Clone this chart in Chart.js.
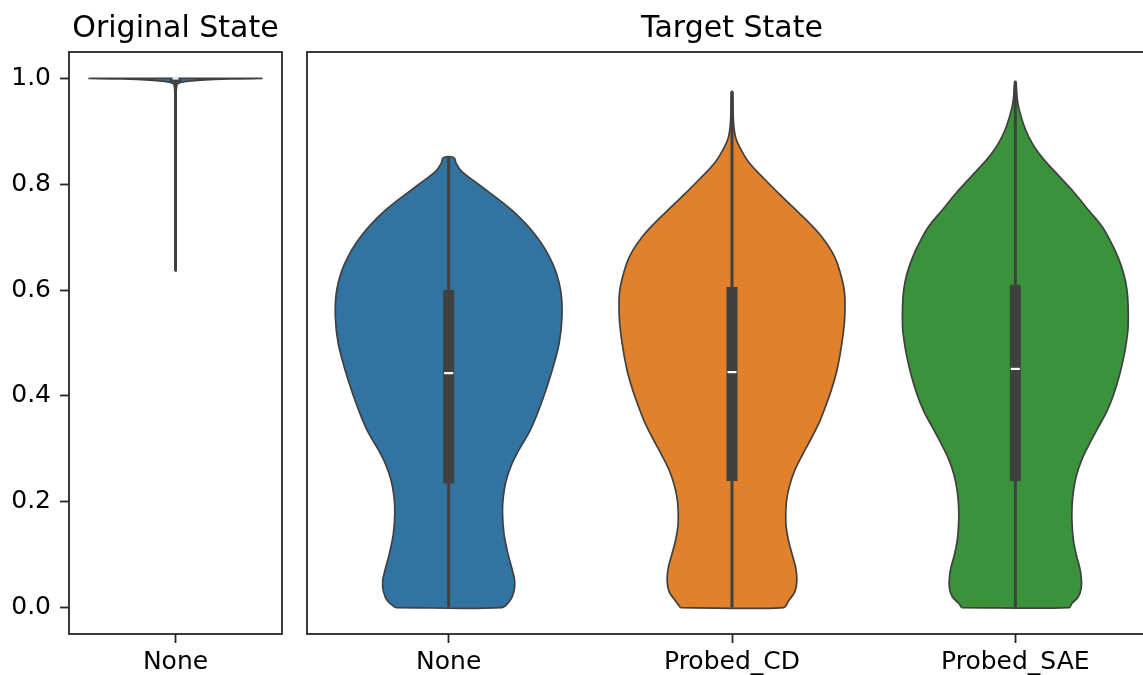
<!DOCTYPE html>
<html>
<head>
<meta charset="utf-8">
<script src="https://cdn.jsdelivr.net/npm/chart.js@4/dist/chart.umd.min.js"></script>
<style>
  html, body { margin: 0; padding: 0; background: #fff; }
  body { width: 1143px; height: 675px; overflow: hidden; position: relative; }
  canvas { position: absolute; top: 0; }
</style>
</head>
<body>
<canvas id="orig" width="300" height="675" style="left:0"></canvas>
<canvas id="target" width="880" height="675" style="left:295px"></canvas>
<script>
  // --- data ---
  const yTicks = [0.0, 0.2, 0.4, 0.6, 0.8, 1.0];

  const origCats = ['None'];
  const origColors = ['#3274a1'];
  const origLevels = [0.636, 0.9, 0.97, 0.985, 0.99, 0.993, 0.995, 0.997, 0.999, 1.0];
  const origWidths = [0.002, 0.002, 0.003, 0.005, 0.01, 0.03, 0.06, 0.12, 0.25, 0.4];
  const origMin = [0.636], origMax = [1.0];
  const origQ1 = [0.993], origQ3 = [1.0], origMedian = [1.0];

  const targetCats = ['None', 'Probed_CD', 'Probed_SAE'];
  const targetColors = ['#3274a1', '#e1812c', '#3a923a'];

  const noneLevels = [0.0, 0.012, 0.03, 0.05, 0.07, 0.1, 0.14, 0.18, 0.21, 0.24, 0.27, 0.3, 0.33, 0.36, 0.4, 0.45, 0.5, 0.55, 0.6, 0.65, 0.7, 0.75, 0.8, 0.825, 0.84, 0.85];
  const noneWidths = [0.187, 0.215, 0.23, 0.233, 0.225, 0.21, 0.195, 0.19, 0.193, 0.203, 0.222, 0.25, 0.283, 0.308, 0.336, 0.366, 0.39, 0.4, 0.395, 0.367, 0.312, 0.225, 0.105, 0.045, 0.026, 0.019];

  const cdLevels = [0.0, 0.013, 0.03, 0.051, 0.075, 0.095, 0.13, 0.16, 0.2, 0.23, 0.26, 0.29, 0.32, 0.35, 0.38, 0.41, 0.45, 0.5, 0.55, 0.6, 0.65, 0.675, 0.7, 0.72, 0.746, 0.78, 0.809, 0.841, 0.871, 0.89, 0.92, 0.975];
  const cdWidths = [0.182, 0.2, 0.222, 0.229, 0.225, 0.215, 0.198, 0.19, 0.192, 0.203, 0.222, 0.25, 0.28, 0.308, 0.33, 0.35, 0.371, 0.388, 0.398, 0.396, 0.372, 0.35, 0.318, 0.285, 0.236, 0.17, 0.116, 0.06, 0.026, 0.012, 0.005, 0.002];

  const saeLevels = [0.0, 0.008, 0.02, 0.038, 0.06, 0.076, 0.1, 0.127, 0.16, 0.19, 0.22, 0.25, 0.28, 0.31, 0.34, 0.37, 0.4, 0.44, 0.48, 0.506, 0.53, 0.57, 0.6, 0.63, 0.66, 0.69, 0.72, 0.75, 0.784, 0.815, 0.847, 0.87, 0.89, 0.91, 0.94, 0.96, 0.994];
  const saeWidths = [0.19, 0.2, 0.222, 0.233, 0.232, 0.227, 0.215, 0.205, 0.2, 0.2, 0.205, 0.216, 0.235, 0.262, 0.292, 0.322, 0.345, 0.368, 0.385, 0.393, 0.398, 0.398, 0.394, 0.383, 0.364, 0.338, 0.306, 0.26, 0.208, 0.155, 0.1, 0.068, 0.047, 0.031, 0.014, 0.007, 0.002];

  const targetMin = [0.0, 0.0, 0.0];
  const targetMax = [0.85, 0.975, 0.994];
  const targetQ1 = [0.235, 0.239, 0.239];
  const targetQ3 = [0.600, 0.606, 0.610];
  const targetMedian = [0.443, 0.445, 0.451];

  // --- styles ---
  const FONT = 'DejaVu Sans';
  const EDGE = '#404040';
  const SPINE = '#262626';

  function outline(levels, widths, idx, color) {
    let pts = [];
    for (let i = 0; i < levels.length; i++) pts.push({x: idx - widths[i], y: levels[i]});
    for (let i = levels.length - 1; i >= 0; i--) pts.push({x: idx + widths[i], y: levels[i]});
    pts.push(pts[0]);
    return {
      data: pts, borderColor: EDGE, borderWidth: 1.7, backgroundColor: color,
      fill: 'shape', tension: 0.35, pointRadius: 0, order: 3
    };
  }

  function innerBox(idx, lo, hi, q1, q3, med, medHalf) {
    return [
      {data: [{x: idx, y: lo}, {x: idx, y: hi}], borderColor: EDGE, borderWidth: 3,
        borderCapStyle: 'butt', pointRadius: 0, fill: false, order: 2},
      {data: [{x: idx, y: q1}, {x: idx, y: q3}], borderColor: EDGE, borderWidth: 11,
        borderCapStyle: 'butt', pointRadius: 0, fill: false, order: 1},
      {data: [{x: idx - medHalf, y: med}, {x: idx + medHalf, y: med}], borderColor: '#ffffff',
        borderWidth: 2.2, borderCapStyle: 'butt', pointRadius: 0, fill: false, order: 0}
    ];
  }

  const framePlugin = {
    id: 'frame',
    afterDraw(chart) {
      const a = chart.chartArea, ctx = chart.ctx;
      ctx.save();
      ctx.strokeStyle = SPINE;
      ctx.lineWidth = 1.8;
      ctx.strokeRect(a.left, a.top, a.right - a.left, a.bottom - a.top);
      ctx.restore();
    }
  };

  function makeChart(el, title, cats, datasets, pad, showY) {
    return new Chart(document.getElementById(el), {
      type: 'line',
      data: {datasets: datasets},
      plugins: [framePlugin],
      options: {
        responsive: false,
        animation: false,
        events: [],
        layout: {padding: pad},
        plugins: {
          legend: {display: false},
          tooltip: {enabled: false},
          title: {
            display: true, text: title, color: '#000', fullSize: false,
            font: {family: FONT, size: 30, weight: 'normal'},
            padding: {top: 11, bottom: 5}
          }
        },
        scales: {
          x: {
            type: 'linear', min: -0.5, max: cats.length - 0.5,
            border: {display: false},
            grid: {drawOnChartArea: false, drawTicks: true, tickLength: 9, tickColor: SPINE, tickWidth: 1.8},
            afterBuildTicks: (s) => { s.ticks = cats.map((c, i) => ({value: i})); },
            afterFit: (s) => { s.height = 41; },
            ticks: {
              autoSkip: false, maxRotation: 0, padding: 4, color: '#000',
              font: {family: FONT, size: 25},
              callback: (v) => cats[v]
            }
          },
          y: {
            type: 'linear', min: -0.05, max: 1.05, display: showY,
            border: {display: false},
            grid: {drawOnChartArea: false, drawTicks: true, tickLength: 9, tickColor: SPINE, tickWidth: 1.8},
            afterBuildTicks: (s) => { s.ticks = yTicks.map(v => ({value: v})); },
            afterFit: (s) => { s.width = showY ? 69 : 0; },
            ticks: {
              padding: 9, color: '#000',
              font: {family: FONT, size: 25},
              callback: (v) => v.toFixed(1)
            }
          }
        }
      }
    });
  }

  // --- left panel ---
  let origSets = [];
  origCats.forEach((c, i) => {
    origSets.push(outline(origLevels, origWidths, i, origColors[i]));
    origSets.push(...innerBox(i, origMin[i], origMax[i], origQ1[i], origQ3[i], origMedian[i], 0.014));
  });
  makeChart('orig', 'Original State', origCats, origSets, {left: 0, right: 18, top: 0, bottom: 0}, true);

  // --- right panel ---
  const targetLevels = [noneLevels, cdLevels, saeLevels];
  const targetWidths = [noneWidths, cdWidths, saeWidths];
  let targetSets = [];
  targetCats.forEach((c, i) => {
    targetSets.push(outline(targetLevels[i], targetWidths[i], i, targetColors[i]));
    targetSets.push(...innerBox(i, targetMin[i], targetMax[i], targetQ1[i], targetQ3[i], targetMedian[i], 0.016));
  });
  makeChart('target', 'Target State', targetCats, targetSets, {left: 12, right: 18, top: 0, bottom: 0}, false);
</script>
</body>
</html>
